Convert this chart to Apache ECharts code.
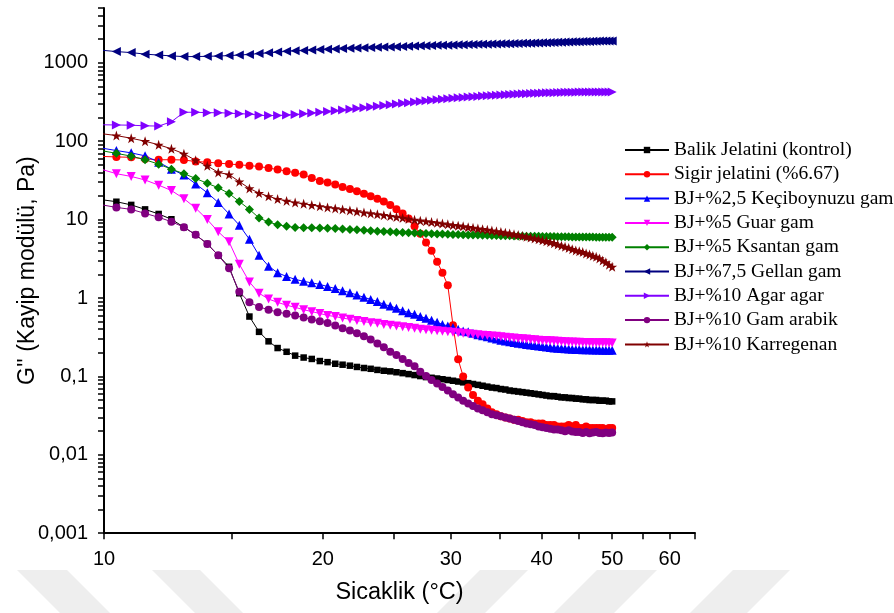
<!DOCTYPE html>
<html><head><meta charset="utf-8">
<script src="https://cdn.jsdelivr.net/npm/echarts@6/dist/echarts.min.js"></script>
<style>html,body{margin:0;padding:0;background:#fff}#c{width:894px;height:613px}</style>
</head><body><div id="c"></div>
<script>
// Temperature (°C)
const temperatures = [9.9,
 10.40,10.90,11.39,11.89,12.38,12.88,13.37,13.87,14.36,14.86,
 15.35,15.85,16.34,16.84,17.33,17.83,18.32,18.82,19.31,19.81,
 20.30,20.80,21.29,21.79,22.28,22.78,23.27,23.77,24.26,24.76,
 25.25,25.75,26.24,26.74,27.23,27.73,28.22,28.72,29.21,29.71,
 30.20,30.70,31.19,31.69,32.18,32.68,33.17,33.67,34.16,34.66,
 35.15,35.65,36.14,36.64,37.13,37.63,38.12,38.62,39.11,39.61,
 40.10,40.60,41.09,41.59,42.08,42.58,43.07,43.57,44.06,44.56,
 45.05,45.55,46.04,46.54,47.03,47.53,48.02,48.52,49.01,49.51,
 50.00];

const balikJelatini = [18,
 16.9,15.4,13.5,11.8,10.1,8.0,6.4,4.9,3.5,2.5,
 1.15,0.58,0.37,0.28,0.23,0.206,0.184,0.174,0.167,0.157,
 0.152,0.145,0.141,0.137,0.132,0.128,0.125,0.121,0.118,0.116,
 0.113,0.11,0.107,0.104,0.101,0.098,0.096,0.094,0.092,0.09,
 0.088,0.086,0.084,0.082,0.08,0.078,0.076,0.074,0.072,0.071,
 0.069,0.068,0.066,0.065,0.064,0.063,0.062,0.061,0.06,0.059,
 0.058,0.057,0.056,0.056,0.055,0.054,0.054,0.053,0.053,0.052,
 0.052,0.051,0.051,0.05,0.05,0.05,0.049,0.049,0.049,0.048,
 0.048];

const sigirJelatini = [64,
 63,62.3,59.5,58,58,57.6,55,54,52.5,51.2,
 50,48.8,47.5,45.5,43.5,41.5,39.5,37.5,34,31,
 29.8,28,26,24.5,23,21.3,19.8,18.5,17,15.3,
 13.6,12,10.3,8.2,6.6,5.1,4.0,2.9,2.1,1.45,
 0.45,0.165,0.1,0.072,0.058,0.049,0.044,0.039,0.035,0.033,
 0.031,0.030,0.029,0.028,0.028,0.027,0.026,0.026,0.025,0.025,
 0.025,0.024,0.024,0.024,0.023,0.023,0.023,0.024,0.023,0.024,
 0.022,0.022,0.023,0.022,0.022,0.022,0.022,0.022,0.021,0.022,
 0.022];

const keciboynuzu = [82,
 76,71,65,54,44,37,28.5,22,16.5,11.8,
 8.5,5.6,3.5,2.55,2.1,1.88,1.73,1.63,1.56,1.49,
 1.4,1.32,1.24,1.17,1.09,1.02,0.96,0.9,0.83,0.79,
 0.74,0.69,0.65,0.62,0.58,0.55,0.52,0.49,0.46,0.44,
 0.42,0.4,0.38,0.37,0.355,0.34,0.33,0.32,0.31,0.3,
 0.29,0.283,0.276,0.27,0.264,0.26,0.256,0.252,0.248,0.244,
 0.24,0.237,0.234,0.231,0.229,0.227,0.225,0.223,0.222,0.221,
 0.22,0.219,0.218,0.218,0.217,0.217,0.217,0.216,0.216,0.216,
 0.216];

const guarGam = [44,
 38.5,35.5,32,27.5,23.5,18.5,14,10,7,5.2,
 2.7,1.6,1.15,0.97,0.88,0.81,0.76,0.71,0.67,0.635,
 0.6,0.58,0.555,0.535,0.515,0.5,0.485,0.475,0.46,0.45,
 0.44,0.43,0.42,0.41,0.4,0.395,0.388,0.382,0.376,0.37,
 0.365,0.36,0.355,0.35,0.345,0.34,0.336,0.332,0.328,0.324,
 0.32,0.316,0.312,0.308,0.305,0.302,0.299,0.296,0.293,0.29,
 0.288,0.286,0.284,0.282,0.28,0.278,0.276,0.275,0.274,0.273,
 0.272,0.271,0.27,0.27,0.269,0.269,0.268,0.268,0.268,0.267,
 0.267];

const ksantanGam = [76,
 70,64.5,58,51,44,38.5,33.5,29,25.5,21.5,
 17,13.5,10.5,9.3,8.6,8.2,7.95,7.9,7.85,7.8,
 7.75,7.7,7.6,7.5,7.4,7.3,7.2,7.12,7.05,6.98,
 6.9,6.85,6.8,6.75,6.7,6.65,6.6,6.57,6.53,6.5,
 6.47,6.44,6.41,6.38,6.36,6.34,6.32,6.3,6.28,6.26,
 6.24,6.22,6.21,6.19,6.18,6.16,6.15,6.13,6.12,6.11,
 6.1,6.09,6.08,6.07,6.06,6.05,6.04,6.03,6.02,6.01,
 6.0,5.99,5.99,5.98,5.98,5.97,5.97,5.96,5.96,5.95,
 5.95];

const gellanGam = [1450,
 1390,1350,1290,1255,1225,1200,1200,1210,1220,1235,
 1255,1280,1310,1340,1370,1400,1420,1440,1460,1475,
 1490,1505,1520,1535,1545,1555,1565,1575,1585,1595,
 1605,1615,1625,1635,1645,1655,1660,1670,1675,1680,
 1690,1695,1700,1710,1715,1720,1725,1730,1735,1740,
 1745,1750,1755,1760,1765,1770,1775,1780,1790,1795,
 1800,1805,1810,1820,1825,1830,1840,1845,1850,1855,
 1860,1865,1870,1875,1880,1885,1890,1890,1895,1900,
 1900];

const agarAgar = [162,
 161,160,157,156,177,234,234,231,231,228,
 224,222,214,212,213,216,219,224,229,234,
 240,245,250,256,262,268,274,280,286,292,
 298,304,310,316,322,328,334,339,344,349,
 353,357,361,365,369,372,376,380,383,386,
 389,392,395,398,400,402,404,406,408,410,
 412,414,415,416,418,419,420,421,422,422,
 423,423,424,424,424,425,425,425,425,425,
 425];

const gamArabik = [15.5,
 14.3,13.5,12.0,10.7,9.4,8.0,6.4,4.9,3.5,2.4,
 1.2,0.88,0.77,0.71,0.66,0.63,0.6,0.565,0.53,0.505,
 0.48,0.445,0.41,0.385,0.355,0.325,0.295,0.262,0.235,0.207,
 0.187,0.167,0.148,0.135,0.115,0.101,0.09,0.081,0.073,0.066,
 0.059,0.054,0.049,0.045,0.042,0.039,0.037,0.035,0.033,0.032,
 0.031,0.030,0.029,0.028,0.027,0.026,0.025,0.0245,0.024,0.023,
 0.0225,0.022,0.0215,0.021,0.021,0.0205,0.020,0.0205,0.0198,0.0196,
 0.0196,0.019,0.0195,0.0188,0.0192,0.0195,0.019,0.0188,0.0192,0.019,
 0.0192];

const karregenan = [125,
 118,109,100,90,80,69,57,48.5,40,37.5,
 30.5,25,21.8,19.8,18.3,17.3,16.5,15.9,15.3,14.8,
 14.3,13.9,13.5,13.1,12.7,12.3,12.0,11.7,11.4,11.1,
 10.8,10.5,10.2,9.95,9.7,9.5,9.3,9.1,8.9,8.7,
 8.5,8.35,8.2,8.0,7.85,7.7,7.55,7.4,7.25,7.1,
 6.95,6.8,6.65,6.5,6.35,6.2,6.05,5.9,5.75,5.6,
 5.45,5.3,5.15,5.0,4.8,4.65,4.5,4.35,4.2,4.05,
 3.95,3.85,3.7,3.6,3.45,3.35,3.2,3.0,2.85,2.65,
 2.5];

const seriesNames = [
 'Balik Jelatini (kontrol)',
 'Sigir jelatini (%6.67)',
 'BJ+%2,5 Keçiboynuzu gam',
 'BJ+%5 Guar gam',
 'BJ+%5 Ksantan gam',
 'BJ+%7,5 Gellan gam',
 'BJ+%10 Agar agar',
 'BJ+%10 Gam arabik',
 'BJ+%10 Karregenan'
];
const seriesValues = [balikJelatini, sigirJelatini, keciboynuzu, guarGam, ksantanGam,
  gellanGam, agarAgar, gamArabik, karregenan];

const xTickLabels = [10, 20, 30, 40, 50, 60];
const xMinorTicks = [15, 25, 35, 45, 55, 65];
const yTickLabels = [0.001, 0.01, 0.1, 1, 10, 100, 1000];
const yMinorMultipliers = [2, 3, 4, 5, 6, 7, 8, 9];

const styles = [
 {color:'#000000', symbol:'rect', size:6.5, rotate:0},
 {color:'#FF0000', symbol:'circle', size:8, rotate:0},
 {color:'#0000FF', symbol:'triangle', size:9, rotate:0},
 {color:'#FF00FF', symbol:'triangle', size:9, rotate:180},
 {color:'#008000', symbol:'diamond', size:9, rotate:0},
 {color:'#000080', symbol:'triangle', size:9, rotate:90},
 {color:'#8000FF', symbol:'triangle', size:9, rotate:-90},
 {color:'#800080', symbol:'circle', size:8, rotate:0},
 {color:'#800000', symbol:'path://M50,0 L61.8,35.1 L97.6,35.1 L68.5,56.8 L79.4,90.5 L50,69.5 L20.6,90.5 L31.5,56.8 L2.4,35.1 L38.2,35.1 Z', size:10, rotate:0}
];

const yMinorTicks = [];
yTickLabels.forEach(function (d) {
  yMinorMultipliers.forEach(function (m) { yMinorTicks.push(+(d * m).toPrecision(3)); });
});
[2000, 3000, 4000, 5000].forEach(function (v) { yMinorTicks.push(v); });

const xAllTicks = xTickLabels.concat(xMinorTicks);
const yAllTicks = yTickLabels.concat(yMinorTicks);

const fmt = function (v) { return String(v).replace('.', ','); };
const axisColor = '#000000';

const series = seriesNames.map(function (name, s) {
  const st = styles[s];
  return {
    name: name,
    type: 'line',
    data: temperatures.map(function (t, i) { return [t, seriesValues[s][i]]; }),
    symbol: st.symbol,
    symbolSize: st.size,
    symbolRotate: st.rotate,
    showSymbol: true,
    clip: true,
    itemStyle: {color: st.color},
    lineStyle: {color: st.color, width: 1},
    emphasis: {disabled: true},
    animation: false
  };
});

// faint watermark shapes at the bottom of the picture
const wm = '#eeeeee';
const watermark = [
  [[17,570],[67,570],[110,613],[60,613]],
  [[152,570],[200,570],[243,613],[195,613]],
  [[480,570],[528,570],[485,613],[437,613]],
  [[597,570],[657,570],[614,613],[554,613]],
  [[733,570],[790,570],[747,613],[690,613]]
].map(function (pts) {
  return {type: 'polygon', silent: true, z: -10, shape: {points: pts}, style: {fill: wm}};
});

const chart = echarts.init(document.getElementById('c'), null, {renderer: 'canvas'});
chart.setOption({
  backgroundColor: '#ffffff',
  animation: false,
  graphic: watermark,
  grid: {left: 104, top: 8, right: 199, bottom: 79.8, containLabel: false, outerBoundsMode: 'none'},
  legend: {
    orient: 'vertical',
    left: 619,
    top: 135,
    itemWidth: 44,
    itemHeight: 8,
    itemGap: 4.3,
    selectedMode: false,
    textStyle: {fontFamily: 'Liberation Serif', fontSize: 19.5, color: '#000', lineHeight: 20},
    data: seriesNames
  },
  xAxis: {
    type: 'log', logBase: 10, min: 10, max: 65,
    name: 'Sicaklik (°C)', nameLocation: 'middle', nameGap: 47,
    nameTextStyle: {fontFamily: 'Liberation Sans', fontSize: 23.5, color: '#000'},
    axisLine: {show: true, onZero: false, lineStyle: {color: axisColor, width: 2}},
    axisTick: {show: true, inside: false, length: 6, lineStyle: {color: axisColor, width: 1.5}, customValues: xAllTicks},
    axisLabel: {show: true, margin: 16, fontFamily: 'Liberation Sans', fontSize: 20, color: '#000', customValues: xTickLabels, formatter: fmt},
    splitLine: {show: false}, minorTick: {show: false}
  },
  yAxis: {
    type: 'log', logBase: 10, min: 0.001, max: 5000,
    name: "G'' (Kayip modülü, Pa)", nameLocation: 'middle', nameGap: 65, nameRotate: 90,
    nameMoveOverlap: false,
    nameTextStyle: {fontFamily: 'Liberation Sans', fontSize: 23, color: '#000'},
    axisLine: {show: true, onZero: false, lineStyle: {color: axisColor, width: 2}},
    axisTick: {show: true, inside: false, length: 6, lineStyle: {color: axisColor, width: 1.5}, customValues: yAllTicks},
    axisLabel: {show: true, margin: 16, fontFamily: 'Liberation Sans', fontSize: 20, color: '#000', customValues: yTickLabels, formatter: fmt},
    splitLine: {show: false}, minorTick: {show: false}
  },
  series: series
});
</script>
</body></html>
